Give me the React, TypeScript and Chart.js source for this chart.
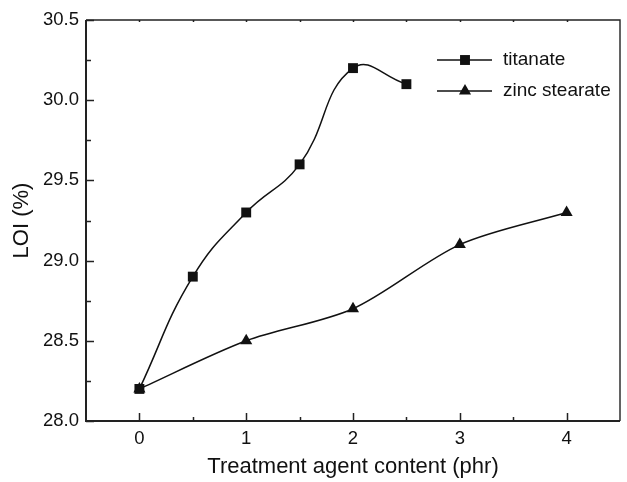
import React, { useEffect, useRef } from 'react';
import { Chart, registerables } from 'chart.js';

Chart.register(...registerables);

const titanateX = [0, 0.5, 1, 1.5, 2, 2.5];
const titanateY = [28.2, 28.9, 29.3, 29.6, 30.2, 30.1];
const zincX = [0, 1, 2, 3, 4];
const zincY = [28.2, 28.5, 28.7, 29.1, 29.3];
const seriesLabels = ['titanate', 'zinc stearate'];
const seriesStyles = ['rect', 'triangle'];

const xMajorTicks = [0, 1, 2, 3, 4];
const xMinorTicks = [0.5, 1.5, 2.5, 3.5];
const xTopTicks = [0, 0.5, 1, 1.5, 2, 2.5, 3, 3.5, 4];
const yMajorTicks = [28.0, 28.5, 29.0, 29.5, 30.0, 30.5];
const yMinorTicks = [28.25, 28.75, 29.25, 29.75, 30.25];

const xTitle = 'Treatment agent content (phr)';
const yTitle = 'LOI (%)';

const FONT = '"Liberation Sans", Arial, Helvetica, sans-serif';
const INK = '#111111';

function drawMarker(ctx: CanvasRenderingContext2D, style: string, x: number, y: number) {
  ctx.save();
  ctx.fillStyle = INK;
  ctx.beginPath();
  if (style === 'rect') {
    const s = 4.95;
    ctx.rect(x - s, y - s, 2 * s, 2 * s);
  } else {
    const r = 7;
    ctx.moveTo(x, y - r);
    ctx.lineTo(x + r * Math.sin((2 * Math.PI) / 3), y + r / 2);
    ctx.lineTo(x - r * Math.sin((2 * Math.PI) / 3), y + r / 2);
    ctx.closePath();
  }
  ctx.fill();
  ctx.restore();
}

const framePlugin = {
  id: 'frameTicks',
  afterDatasetsDraw(chart: any) {
    const { ctx, chartArea } = chart;
    const { left, right, top, bottom } = chartArea;
    const xs = chart.scales.x;
    const ys = chart.scales.y;
    ctx.save();
    ctx.strokeStyle = '#222222';
    ctx.lineWidth = 1.4;
    ctx.beginPath();
    ctx.moveTo(left, top);
    ctx.lineTo(right, top);
    ctx.lineTo(right, bottom);
    ctx.stroke();
    ctx.lineWidth = 2;
    ctx.beginPath();
    ctx.moveTo(left, top);
    ctx.lineTo(left, bottom);
    ctx.lineTo(right, bottom);
    ctx.stroke();
    ctx.lineWidth = 1.5;
    ctx.beginPath();
    xMajorTicks.forEach((v) => {
      const px = Math.round(xs.getPixelForValue(v)) + 0.5;
      ctx.moveTo(px, bottom);
      ctx.lineTo(px, bottom - 8);
    });
    xMinorTicks.forEach((v) => {
      const px = Math.round(xs.getPixelForValue(v)) + 0.5;
      ctx.moveTo(px, bottom);
      ctx.lineTo(px, bottom - 4);
    });
    xTopTicks.forEach((v) => {
      const px = Math.round(xs.getPixelForValue(v)) + 0.5;
      ctx.moveTo(px, top);
      ctx.lineTo(px, top + 2);
    });
    yMajorTicks.forEach((v) => {
      const py = Math.round(ys.getPixelForValue(v)) + 0.5;
      ctx.moveTo(left, py);
      ctx.lineTo(left + 8, py);
    });
    yMinorTicks.forEach((v) => {
      const py = Math.round(ys.getPixelForValue(v)) + 0.5;
      ctx.moveTo(left, py);
      ctx.lineTo(left + 5, py);
    });
    ctx.stroke();
    ctx.restore();
  },
  afterDraw(chart: any) {
    const { ctx } = chart;
    ctx.save();
    chart.data.datasets.forEach((ds: any, i: number) => {
      const y = 60 + i * 31;
      ctx.strokeStyle = INK;
      ctx.lineWidth = 1.5;
      ctx.beginPath();
      ctx.moveTo(437, y);
      ctx.lineTo(492, y);
      ctx.stroke();
      drawMarker(ctx, seriesStyles[i], 465, y);
      ctx.fillStyle = INK;
      ctx.font = `19px ${FONT}`;
      ctx.textAlign = 'left';
      ctx.textBaseline = 'middle';
      ctx.fillText(ds.label, 503, y);
    });
    ctx.restore();
  },
};

export default function App() {
  const canvasRef = useRef<HTMLCanvasElement | null>(null);

  useEffect(() => {
    document.body.style.margin = '0';
    const canvas = canvasRef.current;
    if (!canvas) return;
    const chart = new Chart(canvas, {
      type: 'line',
      data: {
        datasets: [
          {
            label: seriesLabels[0],
            data: titanateX.map((x, i) => ({ x, y: titanateY[i] })),
            borderColor: INK,
            borderWidth: 1.5,
            backgroundColor: INK,
            pointStyle: 'rect',
            pointRadius: 7,
            pointBorderWidth: 0,
            pointBackgroundColor: INK,
            tension: 0.45,
            fill: false,
          },
          {
            label: seriesLabels[1],
            data: zincX.map((x, i) => ({ x, y: zincY[i] })),
            borderColor: INK,
            borderWidth: 1.5,
            backgroundColor: INK,
            pointStyle: 'triangle',
            pointRadius: 7,
            pointBorderWidth: 0,
            pointBackgroundColor: INK,
            tension: 0.3,
            fill: false,
          },
        ],
      },
      options: {
        responsive: false,
        animation: false,
        events: [],
        layout: { padding: { top: 20, right: 1, left: 0, bottom: 0 } },
        plugins: {
          legend: { display: false },
          tooltip: { enabled: false },
        },
        scales: {
          x: {
            type: 'linear',
            min: -0.5,
            max: 4.5,
            grid: { display: false, drawTicks: false },
            border: { display: false },
            afterBuildTicks: (s: any) => {
              s.ticks = xMajorTicks.map((v) => ({ value: v }));
            },
            afterFit: (s: any) => {
              s.height = 61;
            },
            ticks: {
              padding: 7,
              color: INK,
              font: { family: FONT, size: 18.5 },
              callback: (v: any) => String(v),
            },
            title: {
              display: true,
              text: xTitle,
              color: INK,
              font: { family: FONT, size: 22 },
              padding: { top: 0, bottom: 2 },
            },
          },
          y: {
            type: 'linear',
            min: 28,
            max: 30.5,
            grid: { display: false, drawTicks: false },
            border: { display: false },
            afterBuildTicks: (s: any) => {
              s.ticks = yMajorTicks.map((v) => ({ value: v }));
            },
            afterFit: (s: any) => {
              s.width = 86;
            },
            ticks: {
              padding: 7,
              color: INK,
              font: { family: FONT, size: 18.5 },
              callback: (v: any) => Number(v).toFixed(1),
            },
            title: {
              display: true,
              text: yTitle,
              color: INK,
              font: { family: FONT, size: 22 },
              padding: { top: 9, bottom: 0 },
            },
          },
        },
      },
      plugins: [framePlugin],
    } as any);
    return () => chart.destroy();
  }, []);

  return (
    <div style={{ width: 627, height: 482 }}>
      <canvas ref={canvasRef} width={627} height={482} style={{ display: 'block' }} />
    </div>
  );
}
